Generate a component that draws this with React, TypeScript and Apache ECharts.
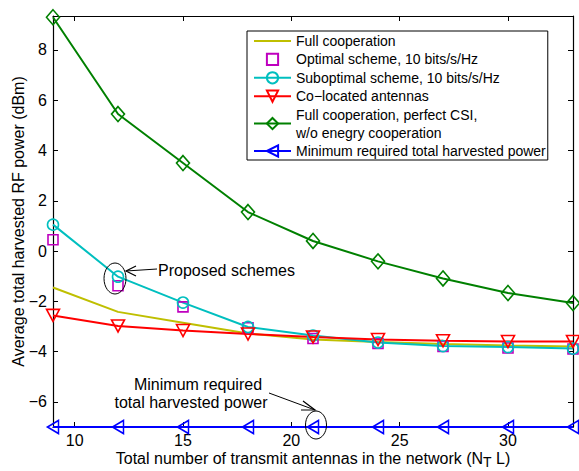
import React, { useEffect, useRef } from "react";
import * as echarts from "echarts";

const xValues = [9, 12, 15, 18, 21, 24, 27, 30, 33];
const fullCoop = [-1.45, -2.42, -2.85, -3.28, -3.52, -3.62, -3.7, -3.76, -3.8];
const optimal = [0.45, -1.38, -2.22, -3.05, -3.48, -3.68, -3.8, -3.86, -3.9];
const suboptimal = [1.05, -1.02, -2.05, -3.02, -3.36, -3.64, -3.78, -3.82, -3.88];
const colocated = [-2.56, -2.98, -3.16, -3.3, -3.42, -3.52, -3.57, -3.6, -3.6];
const perfectCsi = [9.3, 5.45, 3.5, 1.55, 0.4, -0.41, -1.09, -1.67, -2.07];
const minRequired = [-7, -7, -7, -7, -7, -7, -7, -7, -7];

const xTicks = [10, 15, 20, 25, 30];
const yTicks = [-6, -4, -2, 0, 2, 4, 6, 8];

const FONT = "Liberation Sans, Arial, Helvetica, sans-serif";
const T = "rgba(0,0,0,0)";

const pairs = (ys: number[]) => xValues.map((x, i) => [x, ys[i]]);

export default function App() {
  const ref = useRef<HTMLDivElement>(null);
  useEffect(() => {
    if (!ref.current) return;
    const chart = echarts.init(ref.current, undefined, { renderer: "svg" });
    const lineSeries = (
      name: string,
      data: number[],
      color: string,
      symbol: string,
      size: any,
      rotate = 0,
      opts: any = {}
    ) => ({
      name,
      type: "line",
      data: pairs(data),
      symbol,
      symbolSize: size,
      symbolRotate: rotate,
      showSymbol: opts.showSymbol !== false,
      lineStyle: opts.lineStyle || { color, width: 2 },
      itemStyle: opts.itemStyle || { color: T, borderColor: color, borderWidth: 1.6 },
      emphasis: { disabled: true },
    });
    chart.setOption({
      animation: false,
      textStyle: { fontFamily: FONT },
      grid: { left: 53, right: 6, top: 16, bottom: 44, containLabel: false, outerBoundsMode: "none" },
      legend: {
        orient: "vertical",
        left: 247,
        top: 31,
        padding: [1, 2, 0, 6],
        borderColor: "#000",
        borderWidth: 1,
        backgroundColor: "#fff",
        itemWidth: 37,
        itemHeight: 14,
        itemGap: 0.4,
        textStyle: { fontFamily: FONT, fontSize: 14, color: "#000", lineHeight: 18 },
        data: [
          "Full cooperation",
          "Optimal scheme, 10 bits/s/Hz",
          "Suboptimal scheme, 10 bits/s/Hz",
          "Co\u2212located antennas",
          "Full cooperation, perfect CSI,\nw/o enegry cooperation",
          "Minimum required total harvested power",
        ],
      },
      xAxis: [
        {
          type: "value",
          min: 9,
          max: 33,
          position: "bottom",
          name: "Total number of transmit antennas in the network (N{sub|T} L)",
          nameLocation: "middle",
          nameGap: 21,
          nameMoveOverlap: false,
          nameTextStyle: {
            fontFamily: FONT,
            fontSize: 16,
            color: "#000",
            rich: { sub: { fontFamily: FONT, fontSize: 14, color: "#000", padding: [7, 0, 0, 0] } },
          },
          axisLine: { show: true, onZero: false, lineStyle: { color: "#000", width: 1.2 } },
          axisTick: { show: true, inside: true, length: 5, customValues: xTicks, lineStyle: { color: "#000" } },
          axisLabel: { customValues: xTicks, fontFamily: FONT, fontSize: 16, color: "#000", margin: 5 },
          splitLine: { show: false },
        },
        {
          type: "value",
          min: 9,
          max: 33,
          position: "top",
          axisLine: { show: true, onZero: false, lineStyle: { color: "#000", width: 1.2 } },
          axisTick: { show: true, inside: true, length: 5, customValues: xTicks, lineStyle: { color: "#000" } },
          axisLabel: { show: false },
          splitLine: { show: false },
        },
      ],
      yAxis: [
        {
          type: "value",
          min: -7,
          max: 9.35,
          position: "left",
          name: "Average total harvested RF power (dBm)",
          nameLocation: "middle",
          nameGap: 27,
          nameMoveOverlap: false,
          nameTextStyle: { fontFamily: FONT, fontSize: 16, color: "#000" },
          axisLine: { show: true, onZero: false, lineStyle: { color: "#000", width: 1.2 } },
          axisTick: { show: true, inside: true, length: 5, customValues: yTicks, lineStyle: { color: "#000" } },
          axisLabel: {
            customValues: yTicks,
            fontFamily: FONT,
            fontSize: 16,
            color: "#000",
            margin: 6,
            formatter: (v: number) => (v < 0 ? "\u2212" + Math.abs(v) : String(v)),
          },
          splitLine: { show: false },
        },
        {
          type: "value",
          min: -7,
          max: 9.35,
          position: "right",
          axisLine: { show: true, onZero: false, lineStyle: { color: "#000", width: 1.2 } },
          axisTick: { show: true, inside: true, length: 5, customValues: yTicks, lineStyle: { color: "#000" } },
          axisLabel: { show: false },
          splitLine: { show: false },
        },
      ],
      series: [
        lineSeries("Full cooperation", fullCoop, "#bfbf00", "circle", 1, 0, {
          showSymbol: false,
          itemStyle: { color: T, borderColor: T, borderWidth: 0 },
        }),
        lineSeries("Optimal scheme, 10 bits/s/Hz", optimal, "#bf00bf", "rect", 10, 0, {
          lineStyle: { color: T, width: 0 },
        }),
        lineSeries("Suboptimal scheme, 10 bits/s/Hz", suboptimal, "#00bfbf", "circle", 11),
        lineSeries("Co\u2212located antennas", colocated, "#ff0000", "triangle", [13, 12], 180),
        lineSeries("Full cooperation, perfect CSI,\nw/o enegry cooperation", perfectCsi, "#008000", "diamond", [13, 15]),
        lineSeries("Minimum required total harvested power", minRequired, "#0000ff", "triangle", [13, 11], 90),
      ],
      graphic: [
        { type: "ellipse", shape: { cx: 115, cy: 278.5, rx: 11, ry: 15.5 }, style: { fill: "none", stroke: "#000", lineWidth: 1 }, z: 100 },
        { type: "line", shape: { x1: 157, y1: 269, x2: 126, y2: 271 }, style: { stroke: "#000", lineWidth: 1 }, z: 100 },
        { type: "polyline", shape: { points: [[136, 266], [126, 271], [136, 276]] }, style: { stroke: "#000", fill: "none", lineWidth: 1.2 }, z: 100 },
        { type: "text", x: 158, y: 270, style: { text: "Proposed schemes", font: "16px " + FONT, fill: "#000", textAlign: "left", textVerticalAlign: "middle" }, z: 100 },
        { type: "ellipse", shape: { cx: 316, cy: 425, rx: 10.5, ry: 14 }, style: { fill: "none", stroke: "#000", lineWidth: 1 }, z: 100 },
        { type: "line", shape: { x1: 269, y1: 393, x2: 315, y2: 410 }, style: { stroke: "#000", lineWidth: 1 }, z: 100 },
        { type: "polyline", shape: { points: [[303, 401], [315, 410], [301, 410]] }, style: { stroke: "#000", fill: "none", lineWidth: 1.2 }, z: 100 },
        { type: "text", x: 198, y: 384, style: { text: "Minimum required", font: "16px " + FONT, fill: "#000", textAlign: "center", textVerticalAlign: "middle" }, z: 100 },
        { type: "text", x: 191, y: 402, style: { text: "total harvested power", font: "16px " + FONT, fill: "#000", textAlign: "center", textVerticalAlign: "middle" }, z: 100 },
      ],
    });
    return () => chart.dispose();
  }, []);
  return <div ref={ref} style={{ width: 579, height: 471, position: "absolute", left: 0, top: 0, background: "#fff" }} />;
}
